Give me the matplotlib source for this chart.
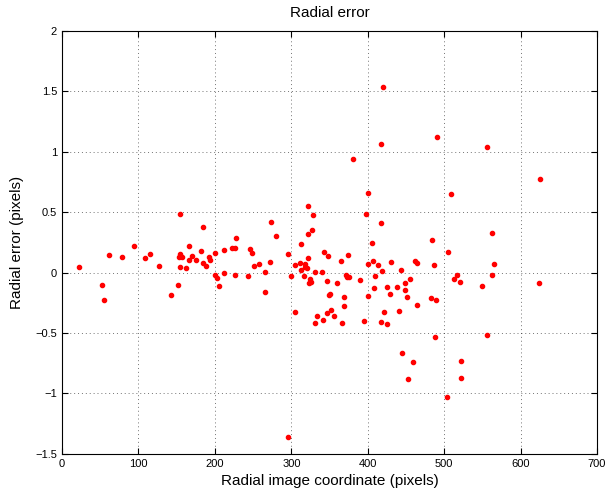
import numpy as np
import matplotlib
matplotlib.use("Agg")
import matplotlib.pyplot as plt

plt.rcParams['font.family'] = ['Liberation Sans', 'DejaVu Sans']

# radial image coordinate (pixels)
r = [21.8, 52.8, 54.5, 61.9, 78.0, 94.2, 109.0, 114.7, 126.5, 142.2,
     151.8, 154.4, 154.3, 153.5, 156.5, 154.8, 161.7, 166.6, 166.6, 169.6,
     175.3, 181.4, 184.4, 184.4, 188.4, 192.7, 193.6, 200.2, 200.2, 203.3,
     205.9, 212.0, 212.0, 222.0, 226.4, 226.4, 228.1,
     243.0, 245.6, 249.0, 251.2, 257.3, 265.6, 266.0, 271.7, 273.0, 280.0,
     295.7, 300.0, 304.9, 305.3, 311.4, 312.7, 312.7, 316.6, 317.5, 318.4,
     320.0, 321.4, 322.3, 321.4, 324.0, 322.7, 325.6, 326.7, 328.4, 331.4,
     333.2, 330.6, 340.2, 341.5, 342.4, 347.2, 346.3, 348.0, 349.0, 350.3,
     352.0, 355.9, 359.4, 365.0, 365.9, 368.5, 368.5, 371.1, 372.4, 375.0,
     373.8, 380.7, 390.3, 395.5, 398.2, 400.0, 400.4, 400.0, 405.2, 407.3,
     409.5, 408.2, 413.4, 417.0, 418.3, 417.0, 421.3, 424.8, 425.6, 428.7,
     430.8, 438.7, 440.9, 443.1, 448.8, 449.2, 451.0, 455.3, 462.3,
     464.9, 464.5, 482.4, 483.7, 486.3, 488.9, 505.0, 509.0, 513.3, 516.8,
     520.7, 549.1, 563.0, 565.2, 562.6, 623.7, 625.0,
     420.4, 417.0, 490.6, 556.0,
     295.7, 444.4, 459.2, 453.1, 488.5, 504.2, 522.0, 522.0, 556.0]

# radial error (pixels)
err = [0.044, -0.10, -0.23, 0.147, 0.125, 0.217, 0.122, 0.155, 0.058, -0.183,
       -0.103, 0.488, 0.15, 0.125, 0.125, 0.047, 0.039, 0.10, 0.222, 0.133,
       0.10, 0.177, 0.378, 0.075, 0.05, 0.13, 0.105, 0.164, -0.022, -0.042,
       -0.11, 0.183, -0.005, 0.20, 0.20, -0.022, 0.286,
       -0.028, 0.197, 0.16, 0.05, 0.067, -0.162, 0.008, 0.088, 0.422, 0.302,
       0.15, -0.028, 0.064, -0.328, 0.078, 0.019, 0.238, -0.028, 0.067, 0.042,
       0.036, 0.122, 0.553, 0.322, -0.05, -0.09, -0.075, 0.352, 0.478, 0.008,
       -0.363, -0.42, 0.008, -0.392, 0.172, -0.067, -0.338, 0.138, -0.183, -0.178,
       -0.308, -0.356, -0.089, 0.092, -0.414, -0.20, -0.275, -0.022, -0.033, -0.039,
       0.142, 0.936, -0.064, -0.403, 0.488, 0.655, 0.067, -0.192, 0.247, 0.092,
       -0.025, -0.128, 0.064, 0.408, 0.011, -0.41, -0.325, -0.428, -0.122, -0.178,
       0.088, -0.117, -0.322, 0.022, -0.083, -0.142, -0.20, -0.053, 0.092,
       0.078, -0.27, -0.214, 0.27, 0.063, -0.23, 0.17, 0.65, -0.053, -0.02,
       -0.078, -0.114, 0.33, 0.072, -0.017, -0.089, 0.772,
       1.538, 1.061, 1.122, 1.038,
       -1.364, -0.664, -0.737, -0.878, -0.531, -1.033, -0.733, -0.87, -0.52]

xticks = [0, 100, 200, 300, 400, 500, 600, 700]
yticks = [-1.5, -1, -0.5, 0, 0.5, 1, 1.5, 2]
ytick_labels = ['\u22121.5', '\u22121', '\u22120.5', '0', '0.5', '1', '1.5', '2']

fig = plt.figure(figsize=(6.08, 4.96), dpi=100)
ax = fig.add_axes([0.102, 0.085, 0.880, 0.853])

ax.plot(r, err, '.', color='red', markersize=6)

ax.set_xlim(0, 700)
ax.set_ylim(-1.5, 2)
ax.set_xticks(xticks)
ax.set_yticks(yticks)
ax.set_yticklabels(ytick_labels)
ax.tick_params(direction='in', top=True, right=True, labelsize=8, length=4)
ax.grid(True, linestyle=(0, (1, 3)), color='black', linewidth=0.7, alpha=0.55)

ax.set_xlabel('Radial image coordinate (pixels)', fontsize=11, labelpad=4)
ax.set_ylabel('Radial error (pixels)', fontsize=11, labelpad=8)
ax.set_title('Radial error', fontsize=11, pad=10)

fig.savefig('out.png', dpi=100)
